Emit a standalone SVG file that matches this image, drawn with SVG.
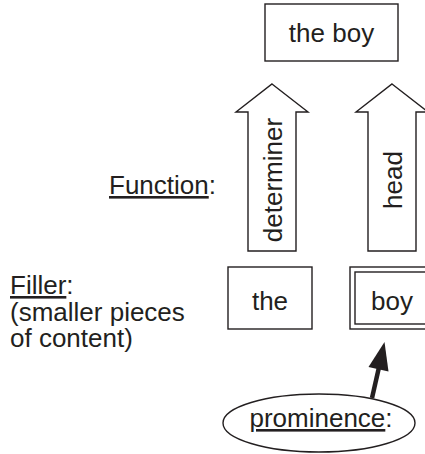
<svg xmlns="http://www.w3.org/2000/svg" width="425" height="454" viewBox="0 0 425 454">
<style>
text{font-family:"Liberation Sans",Arial,sans-serif;font-size:26px;fill:#231f20}
.box{fill:#fff;stroke:#231f20;stroke-width:1.4}
.u{text-decoration:underline}
</style>
<rect width="425" height="454" fill="#fff"/>
<g id="the-boy">
<rect class="box" x="265" y="4" width="133" height="57"/>
<text x="331.5" y="42" text-anchor="middle">the boy</text>
</g>
<g id="determiner">
<polygon class="box" points="272,84 308,112 296,112 296,251 248,251 248,112 236,112"/>
<text transform="translate(282,180) rotate(-90)" text-anchor="middle">determiner</text>
</g>
<g id="head">
<polygon class="box" points="392,84 428,112 416,112 416,251 368,251 368,112 356,112"/>
<text transform="translate(402,180) rotate(-90)" text-anchor="middle">head</text>
</g>
<g id="function-label">
<text x="109" y="194"><tspan class="u">Function</tspan>:</text>
</g>
<g id="filler-label">
<text x="10" y="294"><tspan class="u">Filler</tspan>:</text>
<text x="10" y="321">(smaller pieces</text>
<text x="10" y="347">of content)</text>
</g>
<g id="the">
<rect class="box" x="228" y="267" width="84" height="62"/>
<text x="270" y="310" text-anchor="middle">the</text>
</g>
<g id="boy">
<rect class="box" x="350" y="267" width="84" height="62"/>
<rect class="box" x="355" y="272" width="74" height="52"/>
<text x="392" y="310" text-anchor="middle">boy</text>
</g>
<g id="prominence">
<ellipse class="box" cx="319" cy="423" rx="96" ry="29"/>
<text x="321" y="427" text-anchor="middle"><tspan class="u">prominence</tspan>:</text>
</g>
<g id="connectors">
<line x1="372" y1="398" x2="379.5" y2="365" stroke="#231f20" stroke-width="4.5"/>
<polygon points="384.5,342 388.5,371.5 368.5,367" fill="#231f20"/>
</g>
</svg>
